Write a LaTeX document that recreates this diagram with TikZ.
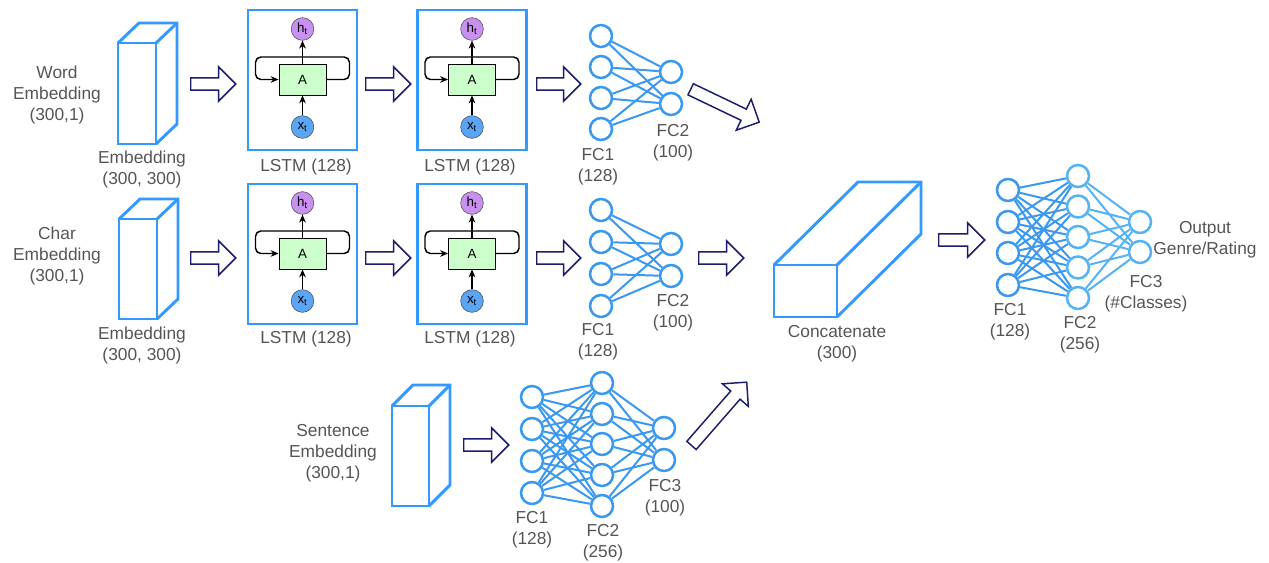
\documentclass[tikz,border=0pt]{standalone}
\usepackage{fontspec}
\setmainfont{Liberation Sans}
\usetikzlibrary{shapes.arrows,arrows.meta}

\definecolor{boxblue}{RGB}{51,153,255}
\definecolor{netblue}{RGB}{58,152,240}
\definecolor{netlight}{RGB}{85,178,245}
\definecolor{navy}{RGB}{28,28,110}
\definecolor{txtgray}{RGB}{85,85,85}
\definecolor{cellgreen}{RGB}{204,255,204}
\definecolor{hpurple}{RGB}{200,145,240}
\definecolor{xblue}{RGB}{90,165,245}

% prism: front rectangle at (#1,#2) of size #3 x #4, depth offset (#5,#6)
\newcommand\drawprism[6]{%
  \draw[prism] (#1,#2) rectangle (#1+#3,#2+#4);
  \draw[prism] (#1,#2) -- ++(#5,#6) -- ++(#3,0) -- ++(0,#4) -- (#1+#3,#2+#4);
  \draw[prism] (#1+#3,#2) -- ++(#5,#6);
}

% LSTM cell: name #1, centre x #2, frame top #3
\newcommand\lstmcell[3]{%
  \node[cellframe] (#1-frame) at (#2,#3+70) {};
  \node[hcirc] (#1-h) at (#2,#3+19) {h\textsubscript{t}};
  \node[acell] (#1-A) at (#2,#3+69.5) {A};
  \node[xcirc] (#1-x) at (#2,#3+117) {x\textsubscript{t}};
  \draw[flow] (#1-x) -- (#1-A);
  \draw[flow] (#1-A) -- (#1-h);
  \draw[flow,rounded corners=4pt] (#1-A.east) -- (#2+47,#3+69.5) -- (#2+47,#3+47)
      -- (#2-47,#3+47) -- (#2-47,#3+69.5) -- (#1-A.west);
}

\begin{document}
\begin{tikzpicture}[x=0.75pt,y=-0.75pt,
  prism/.style={draw=boxblue,line width=2.2pt,line join=miter},
  cellframe/.style={draw=boxblue,line width=2.2pt,minimum width=81.75pt,minimum height=105pt,inner sep=0},
  hcirc/.style={circle,draw=black!70,fill=hpurple,minimum size=17pt,inner sep=0,font=\fontsize{10}{10}\selectfont},
  xcirc/.style={circle,draw=black!70,fill=xblue,minimum size=17pt,inner sep=0,font=\fontsize{10}{10}\selectfont},
  acell/.style={draw=black,line width=0.6pt,fill=cellgreen,minimum width=35.25pt,minimum height=23.25pt,inner sep=0,font=\fontsize{10}{10}\selectfont},
  flow/.style={line width=1.1pt,-{Stealth[length=6pt,width=5pt]}},
  neuron/.style={circle,draw=netblue,fill=white,line width=1.9pt,minimum size=16.5pt,inner sep=0},
  neuronl/.style={neuron,draw=netlight},
  wire/.style={draw=netblue,line width=1.5pt},
  wirel/.style={draw=netlight,line width=1.5pt},
  harrow/.style={single arrow,draw=navy,fill=white,line width=1.1pt,inner xsep=0pt,inner ysep=4.1pt,
    single arrow head extend=8.25pt,anchor=tail},
  lbl/.style={align=center,text=txtgray,font=\fontsize{13}{15.75}\selectfont}
]
\useasboundingbox (0,0) rectangle (1269,563);

% ---------------- word branch ----------------
\node[lbl] (wordlbl) at (57,95) {Word\\Embedding\\(300,1)};
\drawprism{118}{43}{38}{101}{21}{-20}
\node[lbl] (wordemb) at (142,170) {Embedding\\(300, 300)};
\node[harrow,minimum height=33.75pt] (wa1) at (190,84) {};
\lstmcell{wl1}{302.5}{10}
\node[lbl] (wl1lbl) at (306,167) {LSTM (128)};
\node[harrow,minimum height=33.75pt] (wa2) at (365,84) {};
\lstmcell{wl2}{472}{10}
\node[lbl] (wl2lbl) at (470,167) {LSTM (128)};
\node[harrow,minimum height=33pt] (wa3) at (536,84) {};
\foreach \i/\y in {1/36,2/67,3/98,4/129} \node[neuron] (wa-\i) at (601,\y) {};
\foreach \i/\y in {1/72,2/104} \node[neuron] (wb-\i) at (671,\y) {};
\foreach \i in {1,...,4} \foreach \j in {1,2} \draw[wire] (wa-\i) -- (wb-\j);
\node[lbl] (wfc1) at (598,167) {FC1\\(128)};
\node[lbl] (wfc2) at (673,143) {FC2\\(100)};
\node[harrow,minimum height=57pt,rotate=-25.6] (wa4) at (690,89) {};

% ---------------- char branch ----------------
\node[lbl] (charlbl) at (57,256) {Char\\Embedding\\(300,1)};
\drawprism{119}{219}{38}{100}{21}{-20}
\node[lbl] (charemb) at (142,346) {Embedding\\(300, 300)};
\node[harrow,minimum height=33.75pt] (ca1) at (190,258) {};
\lstmcell{cl1}{302.5}{184}
\node[lbl] (cl1lbl) at (306,339) {LSTM (128)};
\node[harrow,minimum height=33.75pt] (ca2) at (365,258) {};
\lstmcell{cl2}{472}{184}
\node[lbl] (cl2lbl) at (470,339) {LSTM (128)};
\node[harrow,minimum height=33pt] (ca3) at (536,258) {};
\foreach \i/\y in {1/210,2/242,3/274,4/306} \node[neuron] (ca-\i) at (601,\y) {};
\foreach \i/\y in {1/244,2/276} \node[neuron] (cb-\i) at (671,\y) {};
\foreach \i in {1,...,4} \foreach \j in {1,2} \draw[wire] (ca-\i) -- (cb-\j);
\node[lbl] (cfc1) at (598,342) {FC1\\(128)};
\node[lbl] (cfc2) at (673,313) {FC2\\(100)};
\node[harrow,minimum height=33.75pt] (ca4) at (698,258) {};

% ---------------- sentence branch ----------------
\node[lbl] (sentlbl) at (333,453) {Sentence\\Embedding\\(300,1)};
\drawprism{392}{406}{37}{100}{21}{-21}
\node[harrow,minimum height=33.75pt] (sa1) at (463,445) {};
\foreach \i/\y in {1/397,2/429,3/461,4/493} \node[neuron] (sa-\i) at (532,\y) {};
\foreach \i/\y in {1/383,2/414,3/444,4/475,5/506} \node[neuron] (sb-\i) at (602,\y) {};
\foreach \i/\y in {1/428,2/460} \node[neuron] (sc-\i) at (664,\y) {};
\foreach \i in {1,...,4} \foreach \j in {1,...,5} \draw[wire] (sa-\i) -- (sb-\j);
\foreach \i in {1,...,5} \foreach \j in {1,2} \draw[wire] (sb-\i) -- (sc-\j);
\node[lbl] (sfc1) at (532,530) {FC1\\(128)};
\node[lbl] (sfc2) at (603,543) {FC2\\(256)};
\node[lbl] (sfc3) at (665,498) {FC3\\(100)};
\node[harrow,minimum height=63pt,rotate=48.9] (sa2) at (691,446) {};

% ---------------- merged head ----------------
\drawprism{774}{265}{63}{52}{84}{-83}
\node[lbl] (concat) at (837,344) {Concatenate\\(300)};
\node[harrow,minimum height=34.5pt] (ma1) at (938,240) {};
\foreach \i/\y in {1/190,2/222,3/253,4/285} \node[neuron] (ma-\i) at (1008,\y) {};
\foreach \i/\y in {1/176,2/206.5,3/237,4/267.5,5/298} \node[neuronl] (mb-\i) at (1078,\y) {};
\foreach \i/\y in {1/222,2/252} \node[neuronl] (mc-\i) at (1140,\y) {};
\foreach \i in {1,...,4} \foreach \j in {1,...,5} \draw[wire] (ma-\i) -- (mb-\j);
\foreach \i in {1,...,5} \foreach \j in {1,2} \draw[wirel] (mb-\i) -- (mc-\j);
\node[lbl] (mfc1) at (1010,322) {FC1\\(128)};
\node[lbl] (mfc2) at (1080,335) {FC2\\(256)};
\node[lbl] (mfc3) at (1146,294) {FC3\\(\#Classes)};
\node[lbl] (outlbl) at (1205,240) {Output\\Genre/Rating};
\end{tikzpicture}
\end{document}
